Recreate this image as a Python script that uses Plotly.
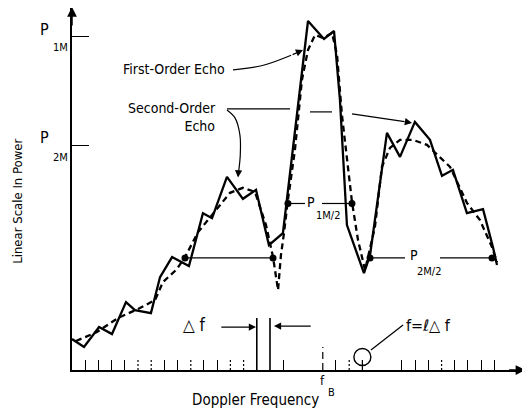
import plotly.graph_objects as go

# ---------------- data (x in frequency bins of width Δf, y in power with P1M = 1) -------------
P1M = 1.0
P2M = 0.673
F_B = 19

solid_x = [0, 0.91, 2.05, 3.03, 4.09, 4.77, 5.98, 6.67, 7.58, 8.86, 9.92, 10.61, 11.74, 12.95,
           13.94, 14.92, 15.98, 17.2, 17.88, 19.09, 19.85, 20.30, 20.83, 22.12, 22.58, 23.86,
           24.85, 25.98, 27.12, 28.03, 28.86, 29.92, 31.14, 31.89, 32.20]
solid_y = [0.093, 0.069, 0.129, 0.108, 0.204, 0.180, 0.171, 0.279, 0.339, 0.312, 0.471, 0.456,
           0.580, 0.514, 0.541, 0.375, 0.411, 0.811, 1.048, 0.994, 1.018, 0.811, 0.435, 0.291,
           0.345, 0.712, 0.640, 0.745, 0.691, 0.583, 0.601, 0.471, 0.483, 0.369, 0.315]

fit_x = [0.30, 1.89, 3.48, 5.15, 6.29, 6.89, 7.95, 8.56, 9.55, 11.06, 11.97, 12.95, 13.86, 14.70,
         15.23, 15.61, 15.83, 16.06, 16.36, 16.89, 17.42, 17.88, 18.41, 19.02, 19.70, 20.08, 20.45,
         21.21, 21.67, 22.20, 22.95, 23.48, 24.09, 24.85, 25.83, 26.89, 27.65, 28.64, 29.92, 30.91,
         31.82, 32.20]
fit_y = [0.087, 0.114, 0.156, 0.186, 0.210, 0.264, 0.303, 0.339, 0.414, 0.486, 0.532, 0.547,
         0.535, 0.435, 0.339, 0.240, 0.345, 0.411, 0.511, 0.661, 0.871, 0.961, 1.006, 0.997, 1.012,
         0.946, 0.766, 0.505, 0.390, 0.300, 0.429, 0.610, 0.667, 0.691, 0.691, 0.676, 0.646, 0.610,
         0.502, 0.450, 0.369, 0.324]

# half-power crossing points (frequency bins)
half2_left = [8.56, 15.23]
half1 = [16.36, 21.21]
half2_right = [22.58, 31.82]

tick_solid = [1, 2, 3, 4, 7, 8, 10, 11, 16, 20, 22, 25, 26, 27, 29, 30, 31, 32]
tick_dotted = [5, 6, 9, 12, 13, 21, 28]
delta_bins = [14, 15]
circle_bin = 22

FONT = "DejaVu Sans Condensed, Liberation Sans Narrow, Liberation Sans, sans-serif"
BLK = "black"

fig = go.Figure()

# spectrum (solid) and smoothed fit (dashed)
fig.add_trace(go.Scatter(x=solid_x, y=solid_y, mode="lines",
                         line=dict(color=BLK, width=2.3), hoverinfo="skip"))
fig.add_trace(go.Scatter(x=fit_x, y=fit_y, mode="lines",
                         line=dict(color=BLK, width=2.3, dash="6px,4px"), hoverinfo="skip"))

# half-power lines
fig.add_trace(go.Scatter(x=half2_left, y=[P2M / 2] * 2, mode="lines+markers",
                         line=dict(color=BLK, width=1.2), marker=dict(color=BLK, size=7),
                         hoverinfo="skip"))
fig.add_trace(go.Scatter(x=[half1[0], 17.65, None, 18.94, half1[1]],
                         y=[P1M / 2, P1M / 2, None, P1M / 2, P1M / 2], mode="lines",
                         line=dict(color=BLK, width=1.2), hoverinfo="skip"))
fig.add_trace(go.Scatter(x=[half2_right[0], 25.23, None, 27.88, half2_right[1]],
                         y=[P2M / 2, P2M / 2, None, P2M / 2, P2M / 2], mode="lines",
                         line=dict(color=BLK, width=1.2), hoverinfo="skip"))
fig.add_trace(go.Scatter(x=half1 + half2_right, y=[P1M / 2] * 2 + [P2M / 2] * 2, mode="markers",
                         marker=dict(color=BLK, size=7), hoverinfo="skip"))

# frequency-bin marks on the axis
xs, ys = [], []
for b in tick_dotted:
    xs += [b, b, None]
    ys += [0, 0.03, None]
fig.add_trace(go.Scatter(x=xs, y=ys, mode="lines",
                         line=dict(color=BLK, width=1.2, dash="2px,2px"), hoverinfo="skip"))
xs, ys = [], []
for b in delta_bins:
    xs += [b, b, None]
    ys += [0, 0.156, None]
fig.add_trace(go.Scatter(x=xs, y=ys, mode="lines", line=dict(color=BLK, width=1.6),
                         hoverinfo="skip"))
fig.add_trace(go.Scatter(x=[F_B, F_B], y=[0, 0.069], mode="lines",
                         line=dict(color=BLK, width=1.2, dash="7px,4px"), hoverinfo="skip"))
fig.add_trace(go.Scatter(x=[circle_bin], y=[0.039], mode="markers",
                         marker=dict(symbol="circle-open", size=17, color=BLK,
                                     line=dict(width=1.4, color=BLK)), hoverinfo="skip"))
fig.add_trace(go.Scatter(x=[circle_bin, circle_bin], y=[0, 0.03], mode="lines",
                         line=dict(color=BLK, width=1.2), hoverinfo="skip"))
# leader from circle to label
fig.add_trace(go.Scatter(x=[22.65, 25.08], y=[0.060, 0.135], mode="lines",
                         line=dict(color=BLK, width=1.2), hoverinfo="skip"))

# "Second-Order Echo" connectors
fig.add_trace(go.Scatter(x=[11.74, 12.35, 12.72, 12.75, 12.62], y=[0.781, 0.757, 0.706, 0.646, 0.595],
                         mode="lines", line=dict(color=BLK, width=1.2, shape="spline"),
                         hoverinfo="skip"))
fig.add_trace(go.Scatter(x=[11.74, 16.52, None, 18.03, 19.70, None, 21.21, 25.2],
                         y=[0.784, 0.784, None, 0.775, 0.775, None, 0.769, 0.746],
                         mode="lines", line=dict(color=BLK, width=1.2), hoverinfo="skip"))
# "First-Order Echo" connector
fig.add_trace(go.Scatter(x=[12.2, 14.5, 16.6], y=[0.901, 0.915, 0.945], mode="lines",
                         line=dict(color=BLK, width=1.2, shape="spline"), hoverinfo="skip"))

ann = []


def arrow(x, y, ax, ay, head=2, size=1.2, width=1.2):
    ann.append(dict(x=x, y=y, ax=ax, ay=ay, xref="x", yref="y", axref="x", ayref="y",
                    text="", showarrow=True, arrowhead=head, arrowsize=size,
                    arrowwidth=width, arrowcolor=BLK))


def text(t, x, y, size=14, xanchor="center", yanchor="middle", xref="x", yref="y",
         xshift=0, yshift=0, align="center", angle=0):
    ann.append(dict(text=t, x=x, y=y, xref=xref, yref=yref, showarrow=False,
                    xanchor=xanchor, yanchor=yanchor, xshift=xshift, yshift=yshift,
                    align=align, textangle=angle, borderpad=0,
                    font=dict(family=FONT, size=size, color=BLK)))


# axis arrowheads
arrow(34.35, 0, 33.0, 0, head=2, size=1.3, width=1.5)
arrow(0, 1.09, 0, 1.03, head=2, size=1.3, width=1.5)
# leader arrowheads
arrow(17.5, 0.961, 16.6, 0.945)
arrow(12.58, 0.578, 12.62, 0.60)
arrow(25.76, 0.742, 25.2, 0.746)
arrow(13.94, 0.129, 11.2, 0.129)
arrow(15.3, 0.132, 18.2, 0.132)

# texts
text("P", 0, P1M, size=16, xshift=-28, yshift=7)
text("1M", 0, P1M, size=11, xshift=-12, yshift=-11)
text("P", 0, P2M, size=16, xshift=-28, yshift=8)
text("2M", 0, P2M, size=11, xshift=-12, yshift=-12)
text("First-Order Echo", 7.73, 0.904, size=14)
text("Second-Order<br>Echo", 10.98, 0.760, size=14, xanchor="right", align="right")
text("P", 18.0, P1M / 2, size=14, xanchor="left", xshift=-4, yshift=1)
text("1M/2", 18.1, P1M / 2, size=11, xanchor="left", xshift=4, yshift=-12)
text("P", 25.3, P2M / 2, size=14, xanchor="left", xshift=3, yshift=3)
text("2M/2", 25.5, P2M / 2, size=11, xanchor="left", xshift=7, yshift=-14)
text("△ f", 9.28, 0.135, size=17)
text("f=ℓ△ f", 25.2, 0.135, size=16, xanchor="left")
text("f", F_B, 0, size=13, yshift=-10)
text("B", F_B, 0, size=11, xshift=9, yshift=-22)
text("Doppler Frequency", 0.406, -0.082, size=15, xref="paper", yref="paper")
text("Linear Scale In Power", -0.121, 0.465, size=13, xref="paper", yref="paper", angle=-90)

# the page body has an 8 px margin, so the figure is sized to fit the 530x414 window
fig.update_layout(
    width=522, height=406, autosize=False,
    margin=dict(l=64, r=5, t=0, b=44),
    paper_bgcolor="white", plot_bgcolor="white",
    showlegend=False,
    annotations=ann,
    xaxis=dict(range=[0, 34.32], showgrid=False, zeroline=False, showline=True,
               linecolor=BLK, linewidth=1.6, ticks="inside", ticklen=10, tickwidth=1.2,
               tickcolor=BLK, tickvals=tick_solid, showticklabels=False, fixedrange=True),
    yaxis=dict(range=[0, 1.087], showgrid=False, zeroline=False, showline=True,
               linecolor=BLK, linewidth=1.6, ticks="inside", ticklen=17, tickwidth=1.2,
               tickcolor=BLK, tickvals=[P2M, P1M], showticklabels=False, fixedrange=True),
)

fig.write_html("out.html")
